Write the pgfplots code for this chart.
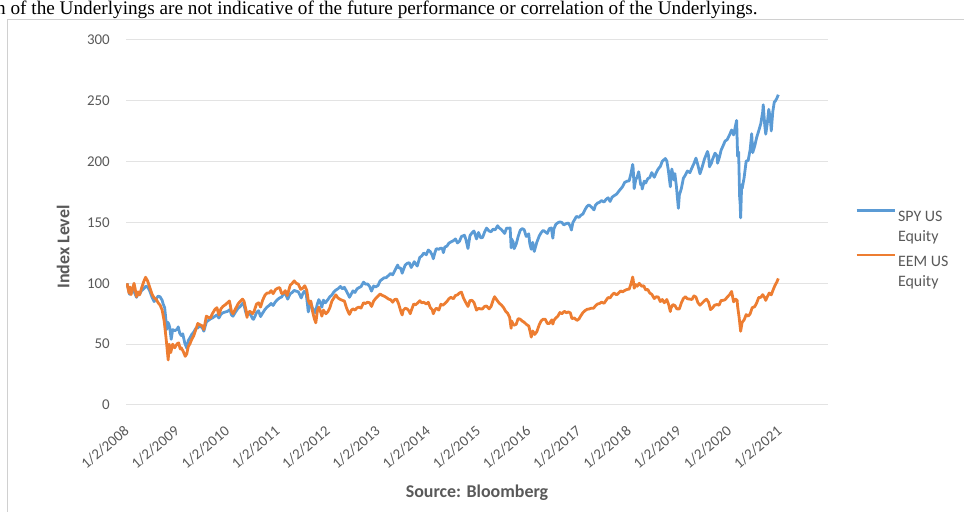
\documentclass[border=0pt]{standalone}
\usepackage{pgfplots}
\pgfplotsset{compat=1.18}
\usepackage{pgfplotstable}
\usepackage{fontspec}
\setmainfont{Carlito}
\newfontfamily\serifnote{Liberation Serif}
\definecolor{spy}{HTML}{5B9BD5}
\definecolor{eem}{HTML}{ED7D31}
\definecolor{txt}{HTML}{595959}
\definecolor{gridc}{HTML}{E3E3E3}
\definecolor{framec}{HTML}{D0D0D0}

\pgfplotstableread{
x y
2008.00 100
2008.03 95
2008.05 91
2008.08 94.8
2008.12 96
2008.15 92.3
2008.19 88.5
2008.22 91.5
2008.25 91
2008.29 94
2008.33 95.4
2008.38 97.8
2008.42 96.5
2008.46 93
2008.50 88.3
2008.54 85
2008.58 87.3
2008.62 89.5
2008.66 88.9
2008.70 86
2008.72 83
2008.75 80
2008.77 72
2008.79 62
2008.81 68
2008.83 66.8
2008.85 64
2008.88 54
2008.91 62
2008.95 61
2009.00 62.3
2009.02 64.2
2009.05 59
2009.08 57.1
2009.11 58.5
2009.15 51
2009.19 46.7
2009.22 53
2009.25 54.9
2009.29 58
2009.33 60
2009.37 63
2009.41 63.4
2009.45 65
2009.50 63.4
2009.53 60.7
2009.58 68.2
2009.62 69.5
2009.66 70.7
2009.70 71.5
2009.75 72.9
2009.79 74
2009.83 71.5
2009.87 74.5
2009.91 75.8
2009.96 76.5
2010.00 76.9
2010.05 78.5
2010.08 74.1
2010.11 73
2010.16 76.4
2010.21 79.5
2010.25 80.7
2010.30 83.5
2010.33 82
2010.36 77
2010.38 74
2010.41 75.5
2010.45 75
2010.50 71
2010.52 70.4
2010.56 74
2010.58 76.1
2010.62 77.5
2010.66 72.7
2010.70 75.5
2010.75 78.7
2010.79 80.5
2010.83 81.8
2010.87 83.5
2010.91 81.8
2010.95 84.5
2011.00 86.8
2011.04 88
2011.08 88.8
2011.12 91.5
2011.15 91.9
2011.20 87
2011.25 91.5
2011.29 92.5
2011.33 94.2
2011.37 93.5
2011.41 93.1
2011.47 88
2011.50 91.4
2011.53 93.5
2011.57 91
2011.59 84
2011.61 76.5
2011.64 81
2011.66 84.1
2011.69 80
2011.72 78
2011.75 75.8
2011.79 83
2011.82 86.6
2011.86 83
2011.88 80.4
2011.91 86.2
2011.95 84
2012.00 86.6
2012.04 89
2012.08 90.4
2012.12 93
2012.16 94.5
2012.20 95.5
2012.25 97.4
2012.29 95.5
2012.33 96.7
2012.37 93.5
2012.41 90.4
2012.43 88.5
2012.47 91.5
2012.50 93.8
2012.54 92.5
2012.58 95.4
2012.62 96.5
2012.66 97.3
2012.71 101
2012.75 99.3
2012.79 99.5
2012.83 97.5
2012.87 93.6
2012.91 97.8
2012.95 97
2013.00 98.3
2013.04 102
2013.08 103.3
2013.12 104.5
2013.16 104.6
2013.21 106.5
2013.25 108.1
2013.29 107
2013.33 110.2
2013.39 115
2013.41 112.8
2013.45 112.5
2013.48 108.3
2013.50 110.7
2013.54 115
2013.58 116.4
2013.62 117
2013.66 113
2013.70 116
2013.72 117.8
2013.75 115.9
2013.78 114.2
2013.83 121.3
2013.87 122.5
2013.91 124.9
2013.96 123.5
2014.00 127.4
2014.04 126
2014.08 123
2014.10 120.2
2014.13 125
2014.16 128.5
2014.21 128
2014.25 129
2014.28 128.5
2014.30 125.2
2014.33 129.9
2014.37 130.5
2014.41 133
2014.45 134
2014.50 135
2014.54 136.5
2014.58 133.2
2014.62 134.5
2014.66 138.5
2014.72 139.5
2014.75 135.9
2014.79 128.6
2014.83 139.2
2014.87 141.5
2014.91 143
2014.96 136.5
2015.00 141.8
2015.04 137.5
2015.08 137.6
2015.12 142
2015.16 145.4
2015.21 143
2015.25 142.4
2015.29 144.5
2015.33 143.9
2015.38 147.3
2015.41 145.7
2015.46 144
2015.50 142.1
2015.52 141
2015.56 145.5
2015.58 145.2
2015.63 145.5
2015.65 129.2
2015.66 136.4
2015.69 134
2015.71 128.5
2015.75 132.2
2015.79 138.5
2015.83 143.5
2015.87 145
2015.91 144
2015.95 138.5
2016.00 140.7
2016.02 133
2016.05 128
2016.08 133.7
2016.11 126.2
2016.16 133.6
2016.21 139
2016.25 141.8
2016.29 143.5
2016.33 142.3
2016.37 141
2016.41 144.9
2016.45 145.5
2016.48 137.1
2016.50 144.6
2016.54 148.5
2016.58 149.8
2016.62 150.5
2016.66 150
2016.70 148
2016.75 149.2
2016.79 149.5
2016.83 146.7
2016.85 143.8
2016.88 150
2016.91 152.1
2016.95 155
2017.00 154.2
2017.04 156
2017.08 157
2017.12 160.5
2017.16 163.2
2017.20 164.5
2017.25 162.6
2017.30 160.4
2017.33 164.3
2017.37 166
2017.41 166.6
2017.45 168
2017.50 166.8
2017.54 169
2017.58 170.3
2017.62 167.3
2017.66 170.8
2017.70 172
2017.75 173.3
2017.79 175.5
2017.83 177.5
2017.87 179.5
2017.91 182.9
2017.96 184
2018.00 184.2
2018.04 191
2018.07 197.7
2018.08 194.5
2018.10 177.8
2018.13 185
2018.16 187.5
2018.19 191.7
2018.23 181
2018.25 181.6
2018.26 177.5
2018.30 184
2018.33 182.5
2018.37 186
2018.41 186.9
2018.45 191
2018.50 187.2
2018.54 191
2018.58 194.1
2018.62 196
2018.66 200.3
2018.72 202.6
2018.75 200.6
2018.78 193
2018.82 179.4
2018.83 186.7
2018.85 193.9
2018.89 185
2018.91 190.2
2018.94 180
2018.98 161.7
2019.00 172.6
2019.04 178
2019.08 186.4
2019.12 189
2019.16 192.3
2019.21 191
2019.25 194.9
2019.29 198.5
2019.33 202.9
2019.37 197
2019.41 190
2019.45 195
2019.50 202.2
2019.56 208.4
2019.58 205.2
2019.60 195.8
2019.64 199
2019.66 201.8
2019.71 207
2019.75 204.8
2019.76 198.7
2019.80 204
2019.83 209.3
2019.87 213
2019.91 216.9
2019.95 218
2020.00 222.1
2020.04 226
2020.08 222
2020.11 228
2020.14 233.9
2020.16 204.4
2020.18 208
2020.20 171.2
2020.21 165.5
2020.22 153.8
2020.24 181
2020.25 177.9
2020.29 187
2020.33 200.4
2020.37 201
2020.41 210
2020.44 223
2020.46 207.4
2020.50 212.8
2020.54 220
2020.58 225.3
2020.62 231
2020.66 241
2020.67 246.8
2020.70 230
2020.72 222.6
2020.75 231.1
2020.78 243
2020.81 236
2020.83 225.3
2020.86 241
2020.89 249
2020.91 249.8
2020.94 252
2020.97 255
}\spydata

\pgfplotstableread{
x y
2008.00 100
2008.02 96
2008.04 92
2008.06 97
2008.08 90.7
2008.11 95
2008.14 100
2008.16 96
2008.19 89
2008.22 93
2008.25 90.5
2008.29 96
2008.33 101
2008.37 105
2008.41 102
2008.45 97
2008.50 91
2008.54 88
2008.58 87
2008.62 84
2008.66 82
2008.70 78
2008.74 69
2008.77 58
2008.79 50
2008.82 37
2008.84 50
2008.87 43
2008.91 50
2008.95 47
2009.00 50.4
2009.03 51
2009.06 46
2009.08 47
2009.12 44
2009.16 40
2009.19 42
2009.22 48
2009.25 50
2009.29 54
2009.33 57
2009.37 62
2009.41 67
2009.45 66
2009.50 65
2009.53 62
2009.58 73
2009.62 72
2009.66 71.5
2009.70 75
2009.75 78.5
2009.79 80
2009.83 74
2009.87 79
2009.91 81
2009.96 82.5
2010.00 84
2010.04 85.5
2010.08 77
2010.11 75
2010.16 79
2010.21 83
2010.25 85
2010.30 87
2010.33 85.4
2010.37 78
2010.39 72
2010.41 76
2010.45 77
2010.50 75
2010.53 77
2010.58 83
2010.62 84
2010.66 80.5
2010.70 86
2010.75 90.5
2010.79 92
2010.83 92
2010.87 94
2010.91 91.5
2010.96 95
2011.00 96
2011.04 96.5
2011.08 91.5
2011.12 92
2011.15 94
2011.19 90
2011.25 98.4
2011.29 100
2011.33 102
2011.37 100
2011.41 99.4
2011.46 95
2011.50 96
2011.54 98
2011.58 94.3
2011.61 86
2011.64 83
2011.66 85.5
2011.70 76
2011.73 71
2011.76 67.5
2011.79 77
2011.82 80.4
2011.86 76
2011.88 73
2011.91 78
2011.96 75
2012.00 76.6
2012.04 80
2012.08 85.4
2012.12 88
2012.16 90.5
2012.20 88
2012.25 86.7
2012.29 86
2012.33 85.4
2012.37 80
2012.41 76
2012.43 74.5
2012.47 78
2012.50 79
2012.54 78
2012.58 79.8
2012.62 80.5
2012.66 79.6
2012.71 84
2012.75 83.4
2012.79 84.5
2012.83 84
2012.87 81
2012.91 85.3
2012.96 88
2013.00 89.5
2013.04 91.3
2013.08 90.1
2013.12 89.5
2013.16 88.5
2013.21 87
2013.25 86.5
2013.29 84.5
2013.33 86.7
2013.37 87
2013.41 83
2013.46 76
2013.48 74
2013.50 77.8
2013.54 79.5
2013.58 79
2013.62 77
2013.64 75
2013.66 77.6
2013.71 83
2013.75 82.4
2013.79 84
2013.83 85.7
2013.87 84
2013.91 84.4
2013.96 83
2014.00 84.4
2014.04 80
2014.08 78.2
2014.10 75
2014.13 78
2014.16 79.6
2014.21 78
2014.25 82.8
2014.29 82
2014.33 83.4
2014.37 85
2014.41 87.3
2014.45 88.5
2014.50 87.3
2014.54 90
2014.58 90.5
2014.62 92
2014.66 92.8
2014.70 88
2014.75 84
2014.79 81
2014.83 85.9
2014.87 86
2014.91 84.2
2014.96 78
2015.00 79.4
2015.04 79
2015.08 79
2015.12 81
2015.16 81.4
2015.21 79
2015.25 81
2015.29 86
2015.32 89
2015.37 86
2015.41 83.8
2015.46 82
2015.50 80
2015.54 77
2015.58 75.4
2015.62 72
2015.65 63
2015.66 69
2015.70 65.5
2015.75 66.3
2015.79 71
2015.83 70.5
2015.87 69
2015.91 68
2015.96 66
2016.00 65
2016.03 60
2016.05 55.8
2016.08 60.8
2016.12 58
2016.16 60.2
2016.21 66
2016.25 69.3
2016.29 70.5
2016.33 70.5
2016.37 67
2016.41 67
2016.46 70
2016.48 66.5
2016.50 69.5
2016.54 71.5
2016.58 73
2016.62 76
2016.66 75
2016.71 77
2016.75 75.8
2016.79 76.5
2016.83 75.6
2016.86 71
2016.91 71.5
2016.96 69.5
2017.00 70.7
2017.04 73.5
2017.08 76
2017.12 77.5
2017.16 78.6
2017.21 79
2017.25 79.6
2017.29 79.5
2017.33 81.6
2017.37 83
2017.41 83.4
2017.45 84.5
2017.50 83.6
2017.54 86
2017.58 88.3
2017.62 88
2017.66 90.5
2017.70 92
2017.75 90.5
2017.79 92
2017.83 93.7
2017.87 93
2017.91 94.1
2017.96 95
2018.00 95.2
2018.04 100
2018.07 105.2
2018.08 103
2018.10 96
2018.13 99
2018.16 97.6
2018.20 100
2018.25 97.6
2018.29 98
2018.33 94.5
2018.37 95
2018.41 92
2018.45 91
2018.50 87.5
2018.54 89
2018.58 88.7
2018.62 85
2018.66 86.7
2018.70 84
2018.75 86.7
2018.79 82
2018.82 76.8
2018.83 79.4
2018.87 82.5
2018.91 81.8
2018.95 79
2019.00 79
2019.04 84
2019.08 87.5
2019.12 89
2019.16 87.3
2019.21 87
2019.25 86.7
2019.29 89.7
2019.33 88.7
2019.37 84
2019.41 82
2019.46 84
2019.50 85.7
2019.54 87
2019.58 84.6
2019.62 78.4
2019.66 79.8
2019.70 82
2019.75 82.6
2019.79 82
2019.83 85.9
2019.87 86
2019.91 86.5
2019.96 89
2020.00 90.7
2020.04 93.3
2020.08 84.8
2020.12 87
2020.15 86
2020.16 81
2020.19 72
2020.22 60.6
2020.25 68
2020.29 70
2020.33 74.3
2020.37 73
2020.41 75
2020.45 80
2020.50 80.8
2020.54 84
2020.58 88.3
2020.62 88.5
2020.66 90.7
2020.70 88
2020.72 86
2020.75 88.9
2020.79 92
2020.83 90.5
2020.87 95
2020.91 98.8
2020.94 101
2020.97 104
}\eemdata

\begin{document}
\begin{tikzpicture}[x=1bp,y=1bp]
\useasboundingbox (0,0) rectangle (964,512);
\node[anchor=base west, inner sep=0pt, font=\serifnote\fontsize{19.3}{22}\selectfont] at (-4,497) {n of the Underlyings are not indicative of the future performance or correlation of the Underlyings.};
\draw[framec, line width=1bp] (7.5,-10) -- (7.5,492.5) -- (980,492.5);
\begin{axis}[
  at={(126bp,107bp)}, anchor=south west,
  scale only axis, width=702bp, height=365bp,
  xmin=2007.98, xmax=2021.96, ymin=0, ymax=300,
  xtick={2008,2009,...,2021},
  xticklabels={1/2/2008,1/2/2009,1/2/2010,1/2/2011,1/2/2012,1/2/2013,1/2/2014,1/2/2015,1/2/2016,1/2/2017,1/2/2018,1/2/2019,1/2/2020,1/2/2021},
  ytick={0,50,...,300},
  ymajorgrids, grid style={gridc, line width=1bp},
  axis line style={draw=none}, major tick length=0pt,
  /pgf/number format/assume math mode=true,
  tick label style={font=\fontsize{15}{18}\selectfont, text=txt},
  xticklabel style={font=\fontsize{15}{18}\selectfont, rotate=40, anchor=north east, inner sep=1bp, xshift=-14.3bp, yshift=-11.5bp},
  yticklabel style={anchor=east, inner sep=0pt, xshift=-16bp},
  xlabel={Source: Bloomberg}, ylabel={Index Level},
  label style={font=\fontsize{18}{22}\selectfont\bfseries, text=txt},
  xlabel style={at={(axis description cs:0.5,-0.241)}, anchor=center},
  ylabel style={at={(axis description cs:-0.0897,0.433)}, anchor=center},
  legend style={at={(axis description cs:1.0385,0.546)}, anchor=north west, draw=none, fill=none,
    font=\fontsize{16}{20}\selectfont, text=txt, row sep=25bp, inner sep=0pt,
    nodes={inner sep=2bp}},
  legend cell align=left,
  legend image code/.code={\draw[#1] (0bp,5bp) -- (38bp,5bp);},
  no markers,
]
\addplot[spy, line width=2.8bp, line join=round] table[x=x,y=y] {\spydata};
\addlegendentry{\begin{tabular}[t]{@{}l@{}}SPY US\\Equity\end{tabular}}
\addplot[eem, line width=2.8bp, line join=round] table[x=x,y=y] {\eemdata};
\addlegendentry{\begin{tabular}[t]{@{}l@{}}EEM US\\Equity\end{tabular}}
\end{axis}
\end{tikzpicture}
\end{document}
